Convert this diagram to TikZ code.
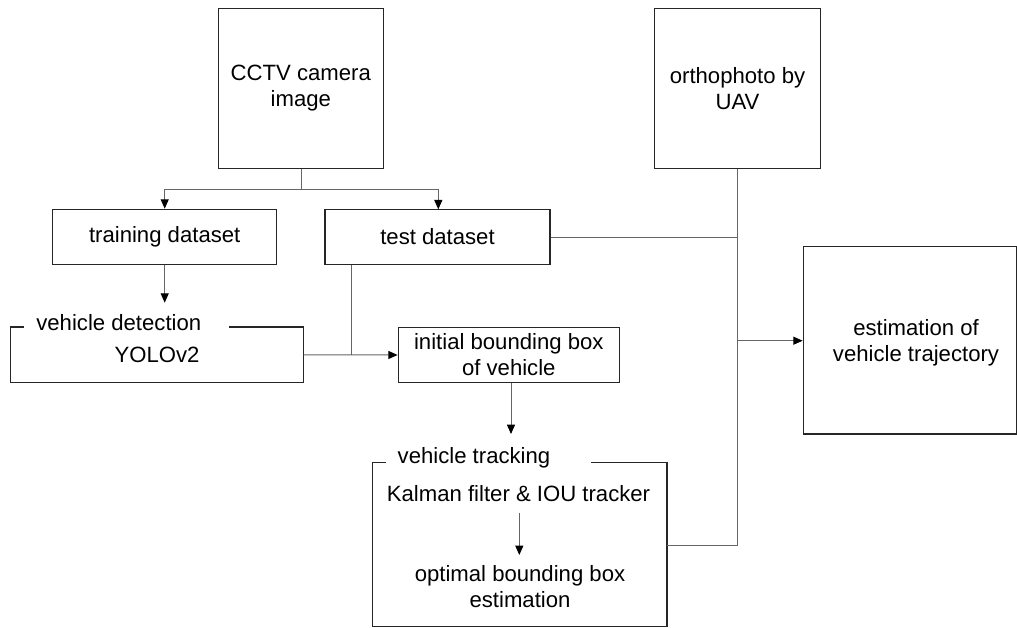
\documentclass[tikz,border=0pt]{standalone}
\usepackage{fontspec}
\setmainfont{Liberation Sans}
\usetikzlibrary{arrows.meta,calc}
\begin{document}
\begin{tikzpicture}[x=0.75pt,y=-0.75pt,
  font=\fontsize{16.6}{19.5}\selectfont,
  box/.style={draw=black!85,line width=1pt,align=center,inner sep=0pt},
  conn/.style={draw=black!60,line width=0.75pt},
  arr/.style={conn,-{Triangle[length=7pt,width=6pt,black]}},
  lbl/.style={inner sep=0pt,align=center}]
\useasboundingbox (0,0) rectangle (1017,628);
% boxes
\node[box,minimum width=123.75pt,minimum height=120pt] (cctv) at (300.8,88.3) {CCTV camera\\image};
\node[box,minimum width=124.8pt,minimum height=120pt] (ortho) at (737.5,88.3) {orthophoto by\\UAV};
\node[box,minimum width=168pt,minimum height=41.5pt] (train) at (164.7,237) {training dataset};
\node[box,minimum width=168.75pt,minimum height=41.5pt] (test) at (437.5,237) {test dataset};
\node[lbl,minimum width=219.5pt,minimum height=41.25pt] (vd) at (157,354.8) {YOLOv2};
\draw[draw=black!85,line width=1pt] ($(vd.north west)+(13.3,0)$) -- (vd.north west) -- (vd.south west) -- (vd.south east) -- (vd.north east) -- ($(vd.north west)+(218.3,0)$);
\node[lbl] (vdl) at (118.8,322.7) {vehicle detection};
\node[box,minimum width=165.75pt,minimum height=41pt] (init) at (508.8,355) {initial bounding box\\of vehicle};
\node[lbl,minimum width=220.5pt,minimum height=122.5pt] (track) at (519.7,544.4) {};
\draw[draw=black!85,line width=1pt] ($(track.north west)+(13.3,0)$) -- (track.north west) -- (track.south west) -- (track.south east) -- (track.north east) -- ($(track.north west)+(218.3,0)$);
\node[lbl] (trl) at (474,457.3) {vehicle tracking};
\node[lbl] (kal) at (518.5,493.3) {Kalman filter \& IOU tracker};
\node[lbl] (opt) at (520,586.3) {optimal bounding box\\estimation};
\node[box,minimum width=160pt,minimum height=140.5pt] (traj) at (910,340.3) {};
\node[lbl] (trajt) at (916,342.5) {estimation of\\vehicle trajectory};
% coordinates
\coordinate (split) at (301.7,189.3);
\coordinate (vdin) at (165.7,302.7);
\coordinate (j1) at (351.7,355);
\coordinate (trin) at (511,434);
\coordinate (vline) at (737.7,237.3);
\coordinate (vbot) at (737.7,545.7);
\coordinate (vmid) at (737.7,340.7);
\coordinate (kout) at (519.3,512.7);
\coordinate (oin) at (519.3,555);
% connectors
\draw[conn] (cctv.south -| split) -- (split);
\draw[arr] (split) -| (train.north);
\draw[arr] (split) -| (438.3,209.3);
\draw[arr] (train.south) -- (train.south |- vdin);
\draw[conn] (test.south -| j1) -- (j1);
\draw[arr] (vd.east) -- (init.west);
\draw[arr] (init.south -| trin) -- (trin);
\draw[arr] (kout) -- (oin);
\draw[conn] (test.east |- vline) -- (vline);
\draw[conn] (ortho.south -| vline) -- (vbot);
\draw[conn] (track.east |- vbot) -- (vbot);
\draw[arr] (vmid) -- (vmid -| traj.west);
\end{tikzpicture}
\end{document}
